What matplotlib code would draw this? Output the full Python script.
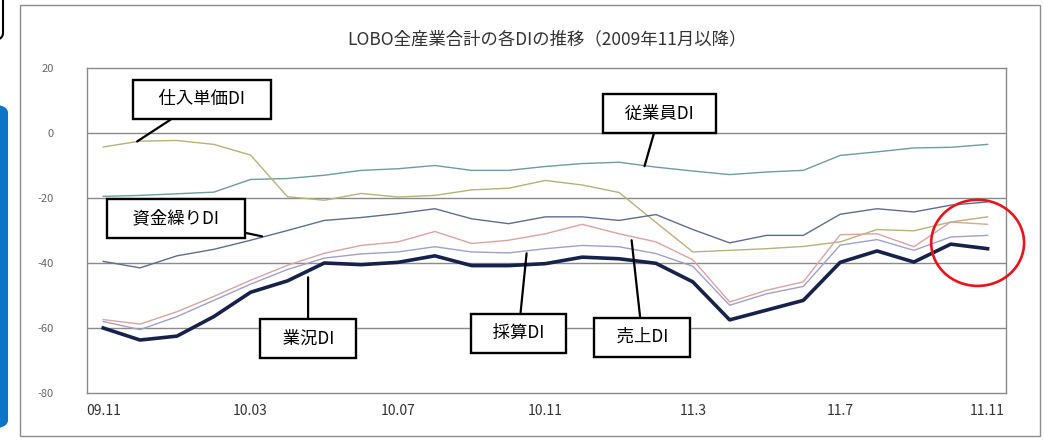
import numpy as np
import matplotlib
matplotlib.use("Agg")
import matplotlib.pyplot as plt
from matplotlib.patches import Ellipse, FancyBboxPatch, Rectangle

plt.rcParams['font.family'] = ['Noto Sans CJK JP', 'DejaVu Sans']

# month labels (every 4th month shown)
months = ["09.11", "09.12", "10.01", "10.02", "10.03", "10.04", "10.05", "10.06",
          "10.07", "10.08", "10.09", "10.10", "10.11", "10.12", "11.1", "11.2",
          "11.3", "11.4", "11.5", "11.6", "11.7", "11.8", "11.9", "11.10", "11.11"]
tick_idx = [0, 4, 8, 12, 16, 20, 24]
tick_labels = ["09.11", "10.03", "10.07", "10.11", "11.3", "11.7", "11.11"]

# DI series
gyokyo = [-60, -63.7, -62.5, -56.5, -49, -45.5, -40, -40.5, -39.8, -37.8, -40.8, -40.8, -40.2,
          -38.2, -38.7, -40.1, -45.8, -57.5, -54.5, -51.5, -39.8, -36.3, -39.7, -34.2, -35.6]
saisan = [-58, -60.5, -56.5, -51.5, -46.5, -42, -38.5, -37.2, -36.6, -35, -36.6, -36.9, -35.6,
          -34.6, -35, -37.1, -41, -53, -49.5, -47.2, -34.5, -32.8, -36.1, -32, -31.5]
uriage = [-57.4, -58.8, -55, -50.3, -45.3, -40.7, -37, -34.6, -33.5, -30.3, -34, -33, -31,
          -28.1, -31, -33.5, -39, -52, -48.4, -45.8, -31.3, -31, -35, -27.4, -28.1]
shikin = [-39.5, -41.5, -37.8, -35.8, -33, -30, -26.9, -26, -24.8, -23.3, -26.4, -27.9, -25.8,
          -25.8, -26.9, -25.1, -29.7, -33.8, -31.5, -31.5, -25, -23.3, -24.3, -22.2, -21.2]
shiire = [-4.3, -2.5, -2.3, -3.5, -6.8, -19.6, -20.7, -18.6, -19.7, -19.2, -17.5, -17, -14.6,
          -16, -18.3, -27.5, -36.6, -36.1, -35.6, -34.9, -33.5, -29.7, -30.1, -27.4, -25.8]
jugyoin = [-19.5, -19.2, -18.7, -18.2, -14.3, -14, -13, -11.5, -11, -10, -11.5, -11.5, -10.3,
           -9.4, -9, -10.5, -11.7, -12.8, -12, -11.5, -6.9, -5.8, -4.6, -4.4, -3.5]

x = np.arange(len(months))

fig = plt.figure(figsize=(10.44, 4.41), dpi=100)
fig.patch.set_facecolor("white")

# screenshot frame bits
fig.patches.append(Rectangle((20 / 1044, 5 / 441), 1020 / 1044, 431 / 441, transform=fig.transFigure,
                             fill=False, edgecolor="#8c8c8c", lw=1.0))
fig.patches.append(FancyBboxPatch((-30 / 1044, 12 / 441), 38 / 1044, 325 / 441,
                                  boxstyle="round,pad=0,rounding_size=0.02",
                                  transform=fig.transFigure, facecolor="#0b76c8", edgecolor="none"))
fig.patches.append(FancyBboxPatch((-30 / 1044, (441 - 42) / 441), 33 / 1044, 60 / 441,
                                  boxstyle="round,pad=0,rounding_size=0.02",
                                  transform=fig.transFigure, facecolor="white",
                                  edgecolor="black", lw=1.5))

ax = fig.add_axes([87 / 1044, 48 / 441, 919 / 1044, 325 / 441])
ax.set_xlim(-0.44, 24.5)
ax.set_ylim(-80, 20)

for g in [-60, -40, -20, 0]:
    ax.axhline(g, color="#8a8a8a", lw=1.0, zorder=1)
for s in ax.spines.values():
    s.set_color("#8a8a8a")
    s.set_linewidth(1.0)

ax.plot(x, jugyoin, color="#6f9c9c", lw=1.0, zorder=3)
ax.plot(x, shiire, color="#b5b27a", lw=1.0, zorder=3)
ax.plot(x, shikin, color="#5d6d92", lw=1.0, zorder=3)
ax.plot(x, uriage, color="#dba3a0", lw=1.0, zorder=3)
ax.plot(x, saisan, color="#a0a0c8", lw=1.0, zorder=3)
ax.plot(x, gyokyo, color="#17224a", lw=2.6, zorder=4)

ax.set_xticks(tick_idx)
ax.set_xticklabels(tick_labels, fontsize=10, color="#333333")
ax.set_yticks([20, 0, -20, -40, -60, -80])
ax.set_yticklabels(["20", "0", "-20", "-40", "-60", "-80"], fontsize=8, color="#666666")
ax.tick_params(axis="y", length=0, pad=24)
ax.tick_params(axis="x", length=0, pad=8)

ax.set_title("LOBO全産業合計の各DIの推移（2009年11月以降）", fontsize=12.5, color="#333333", pad=17)

box = dict(boxstyle="square,pad=0.6", facecolor="white", edgecolor="black", lw=1.7)
arrow = dict(arrowstyle="-", color="black", lw=1.6, shrinkA=0, shrinkB=0)
labels = [
    ("    仕入単価DI    ", (0.92, -2.6), (2.68, 10.4)),
    ("   従業員DI   ", (14.69, -10.2), (15.1, 6.0)),
    ("    資金繰りDI    ", (4.31, -31.8), (1.98, -26.3)),
    ("   業況DI   ", (5.56, -44.4), (5.56, -63.2)),
    ("   採算DI   ", (11.49, -37.0), (11.27, -61.6)),
    ("   売上DI   ", (14.34, -33.0), (14.63, -62.8)),
]
for txt, xy, xytext in labels:
    ax.annotate(txt, xy=xy, xytext=xytext, fontsize=12.5, ha="center", va="center",
                bbox=box, arrowprops=arrow, zorder=6)

ax.add_patch(Ellipse((23.73, -33.8), 2.52, 26.5, fill=False, edgecolor="#e8141b", lw=1.9,
                     clip_on=False, zorder=7))

fig.savefig("out.png", dpi=100)
